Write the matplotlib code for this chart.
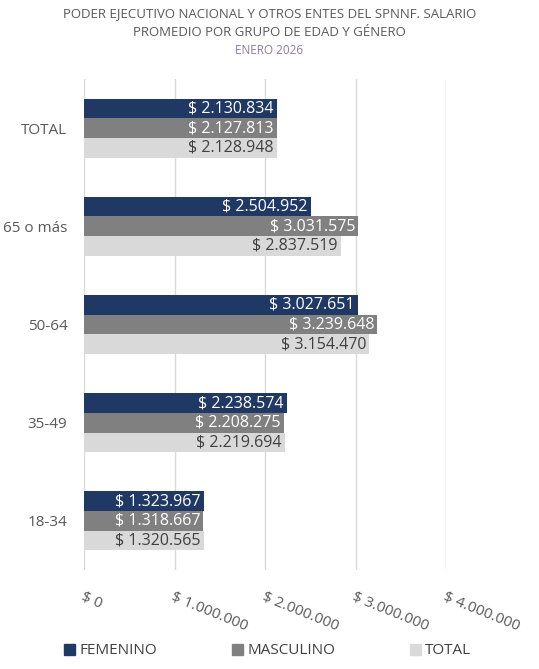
import numpy as np
import matplotlib.pyplot as plt
from matplotlib.patches import Patch

# --- data ---
groups = ["18-34", "35-49", "50-64", "65 o más", "TOTAL"]
femenino = [1323967, 2238574, 3027651, 2504952, 2130834]
masculino = [1318667, 2208275, 3239648, 3031575, 2127813]
total = [1320565, 2219694, 3154470, 2837519, 2128948]
series_names = ["FEMENINO", "MASCULINO", "TOTAL"]
x_ticks = [0, 1000000, 2000000, 3000000, 4000000]

colors = ["#1F3864", "#808080", "#D9D9D9"]
text_colors = ["white", "white", "#404040"]

plt.rcParams["font.family"] = ["Open Sans", "DejaVu Sans"]


def fmt(v):
    return "$ " + f"{v:,}".replace(",", ".")


fig = plt.figure(figsize=(5.39, 6.69), dpi=100)
ax = fig.add_axes([84 / 539, 99 / 669, 362 / 539, 491 / 669])

y = np.arange(len(groups))
h = 0.2
offsets = [h, 0, -h]
for vals, off, col, tcol, name in zip([femenino, masculino, total], offsets,
                                      colors, text_colors, series_names):
    bars = ax.barh(y + off, vals, height=h, color=col, label=name, zorder=2)
    for b, v in zip(bars, vals):
        ax.text(v - 35000, b.get_y() + h / 2, fmt(v), ha="right", va="center",
                color=tcol, fontsize=11.5, zorder=3)

ax.set_xlim(0, 4000000)
ax.set_ylim(-0.5, len(groups) - 0.5)
ax.set_yticks(y)
ax.set_yticklabels(groups, fontsize=11, color="#595959")
ax.set_xticks(x_ticks)
ax.set_xticklabels([fmt(t) for t in x_ticks], rotation=-22, ha="left",
                   rotation_mode="anchor", fontsize=11, color="#595959")
ax.tick_params(axis="both", length=0)
ax.tick_params(axis="x", pad=14)
ax.tick_params(axis="y", pad=12)
ax.grid(axis="x", color="#D9D9D9", linewidth=1, zorder=0)
for s in ax.spines.values():
    s.set_visible(False)

fig.text(0.5, 1 - 14 / 669, "PODER EJECUTIVO NACIONAL Y OTROS ENTES DEL SPNNF. SALARIO",
         ha="center", va="center", fontsize=9.5, color="#595959")
fig.text(0.5, 1 - 32 / 669, "PROMEDIO POR GRUPO DE EDAD Y GÉNERO",
         ha="center", va="center", fontsize=9.5, color="#595959")
fig.text(0.5, 1 - 50 / 669, "ENERO 2026", ha="center", va="center",
         fontsize=8.5, color="#8E7CA0")

handles = [Patch(color=c) for c in colors]
fig.legend(handles, series_names, loc="center", bbox_to_anchor=(0.497, 1 - 651 / 669),
           ncol=3, frameon=False, fontsize=11, handlelength=0.7, handleheight=0.7,
           handletextpad=0.3, columnspacing=4.9, labelcolor="#404040")

fig.savefig("out.png", dpi=100)
